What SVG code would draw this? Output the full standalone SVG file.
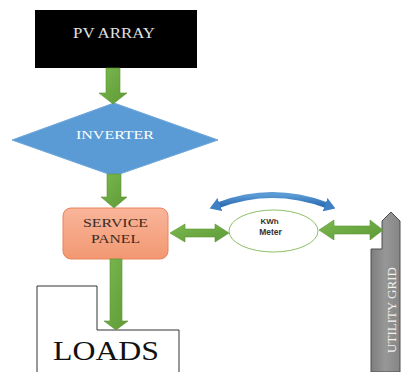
<svg xmlns="http://www.w3.org/2000/svg" width="403" height="372" viewBox="0 0 403 372">
  <defs>
    <linearGradient id="greenFill" x1="0" y1="0" x2="1" y2="1">
      <stop offset="0" stop-color="#7BB84F"/>
      <stop offset="1" stop-color="#5E9A36"/>
    </linearGradient>
    <linearGradient id="panelFill" x1="0" y1="0" x2="0" y2="1">
      <stop offset="0" stop-color="#F9B59A"/>
      <stop offset="1" stop-color="#F29872"/>
    </linearGradient>
    <linearGradient id="gridFill" x1="0" y1="0" x2="1" y2="0">
      <stop offset="0" stop-color="#7E7E7E"/>
      <stop offset="0.5" stop-color="#979797"/>
      <stop offset="1" stop-color="#858585"/>
    </linearGradient>
    <linearGradient id="arcFill" x1="0" y1="0" x2="0" y2="1">
      <stop offset="0" stop-color="#5B9BD5"/>
      <stop offset="1" stop-color="#2F6FB5"/>
    </linearGradient>
    <marker id="blueHead" viewBox="0 0 11 14" refX="1" refY="7" markerWidth="11" markerHeight="14" markerUnits="userSpaceOnUse" orient="auto-start-reverse">
      <path d="M0,0 L11,7 L0,14 Z" fill="#3F7FC4"/>
    </marker>
    <style>
      .serif { font-family: "Liberation Serif", "Times New Roman", serif; }
      .sans { font-family: "Liberation Sans", Arial, sans-serif; }
      .flow { fill: url(#greenFill); stroke: #5A9434; stroke-width: 0.6; }
    </style>
  </defs>

  <g id="pv-array">
    <rect x="35" y="10" width="162" height="58" fill="#000000"/>
    <text class="serif" x="73" y="38" font-size="14" fill="#E2E2E2" textLength="82" lengthAdjust="spacingAndGlyphs">PV ARRAY</text>
  </g>

  <g id="inverter">
    <polygon points="114,103 218,140 114,176 12,140" fill="#5B9BD5" stroke="#6FA7DA" stroke-width="1"/>
    <text class="serif" x="76" y="139" font-size="13" fill="#FFFFFF" textLength="78" lengthAdjust="spacingAndGlyphs">INVERTER</text>
  </g>

  <g id="service-panel">
    <rect x="63" y="208" width="105" height="51" rx="8" fill="url(#panelFill)" stroke="#E8845C" stroke-width="1"/>
    <text class="serif" x="83" y="227" font-size="12.5" fill="#3B2A1E" textLength="65" lengthAdjust="spacingAndGlyphs">SERVICE</text>
    <text class="serif" x="91" y="243" font-size="12.5" fill="#3B2A1E" textLength="49" lengthAdjust="spacingAndGlyphs">PANEL</text>
  </g>

  <g id="kwh-meter">
    <ellipse cx="273.5" cy="231" rx="44.5" ry="21" fill="#FFFFFF" stroke="#8CC063" stroke-width="1"/>
    <text class="sans" x="269.5" y="223.5" font-size="8" font-weight="bold" fill="#333333" text-anchor="middle">KWh</text>
    <text class="sans" x="270.5" y="234.5" font-size="8.5" font-weight="bold" fill="#333333" text-anchor="middle">Meter</text>
  </g>

  <g id="utility-grid">
    <polygon points="371,372 371,249 382,249 382,221 391,212 400,221 400,372" fill="url(#gridFill)" stroke="#4F4F4F" stroke-width="1"/>
    <text class="serif" transform="translate(396,310) rotate(-90)" font-size="13" fill="#F2F2F2" text-anchor="middle">UTILITY GRID</text>
  </g>

  <g id="loads">
    <polyline points="37,372 37,286 97,286 97,330 179,330 179,372" fill="none" stroke="#333333" stroke-width="1"/>
    <text class="serif" x="53" y="360" font-size="27" fill="#111111" textLength="106" lengthAdjust="spacingAndGlyphs">LOADS</text>
  </g>

  <g id="connectors">
    <!-- PV array to inverter -->
    <polygon class="flow" points="106,68 120,68 120,93 127,93 113,104 99,93 106,93"/>
    <!-- inverter to service panel -->
    <polygon class="flow" points="107,174 121,174 121,197 127,197 114,208 101,197 107,197"/>
    <!-- service panel to loads -->
    <polygon class="flow" points="110,259 122,259 122,321 128,321 116,330 104,321 110,321"/>
    <!-- service panel to meter, both ways -->
    <polygon class="flow" points="170,233 185,224 185,229 215,229 215,224 229,233 215,242 215,237 185,237 185,242"/>
    <!-- meter to utility grid, both ways -->
    <polygon class="flow" points="319,230 334,220 334,226 370,226 370,220 383,230 370,240 370,234 334,234 334,240"/>
    <!-- import/export arc over the meter -->
    <path d="M219,205 Q272,185 326,205" fill="none" stroke="url(#arcFill)" stroke-width="6" marker-start="url(#blueHead)" marker-end="url(#blueHead)"/>
  </g>
</svg>
